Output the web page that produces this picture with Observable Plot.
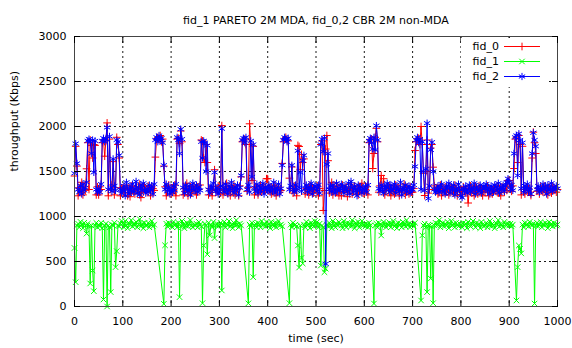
<!DOCTYPE html>
<html><head><meta charset="utf-8">
<script src="https://cdn.jsdelivr.net/npm/d3@7"></script>
<script src="https://cdn.jsdelivr.net/npm/@observablehq/plot@0.6"></script>
<style>
html,body{margin:0;padding:0;background:#fff;}
#chart{width:572px;height:348px;}
</style></head><body><div id="chart"></div>
<script>
const title = "fid_1 PARETO 2M MDA, fid_0,2 CBR 2M non-MDA";
const xLabel = "time (sec)";
const yLabel = "throughput (Kbps)";
const seriesNames = ["fid_0", "fid_1", "fid_2"];
const seriesColors = ["#ff0000", "#00ff00", "#0000ff"];
const seriesSymbols = ["plus", "times", "asterisk"];
const xTicks = [0, 100, 200, 300, 400, 500, 600, 700, 800, 900, 1000];
const yTicks = [0, 500, 1000, 1500, 2000, 2500, 3000];

const time = [
0,2.5,5,7.5,10,12.5,15,17.5,20,22.5,25,27.5,30,32.5,35,37.5,40,42.5,45,47.5,
50,52.5,55,57.5,60,62.5,65,67.5,70,72.5,75,77.5,80,82.5,85,87.5,90,92.5,95,97.5,
100,102.5,105,107.5,110,112.5,115,117.5,120,122.5,125,127.5,130,132.5,135,137.5,140,142.5,145,147.5,
150,152.5,155,157.5,160,162.5,165,167.5,170,172.5,175,177.5,180,182.5,185,187.5,190,192.5,195,197.5,
200,202.5,205,207.5,210,212.5,215,217.5,220,222.5,225,227.5,230,232.5,235,237.5,240,242.5,245,247.5,
250,252.5,255,257.5,260,262.5,265,267.5,270,272.5,275,277.5,280,282.5,285,287.5,290,292.5,295,297.5,
300,302.5,305,307.5,310,312.5,315,317.5,320,322.5,325,327.5,330,332.5,335,337.5,340,342.5,345,347.5,
350,352.5,355,357.5,360,362.5,365,367.5,370,372.5,375,377.5,380,382.5,385,387.5,390,392.5,395,397.5,
400,402.5,405,407.5,410,412.5,415,417.5,420,422.5,425,427.5,430,432.5,435,437.5,440,442.5,445,447.5,
450,452.5,455,457.5,460,462.5,465,467.5,470,472.5,475,477.5,480,482.5,485,487.5,490,492.5,495,497.5,
500,502.5,505,507.5,510,512.5,515,517.5,520,522.5,525,527.5,530,532.5,535,537.5,540,542.5,545,547.5,
550,552.5,555,557.5,560,562.5,565,567.5,570,572.5,575,577.5,580,582.5,585,587.5,590,592.5,595,597.5,
600,602.5,605,607.5,610,612.5,615,617.5,620,622.5,625,627.5,630,632.5,635,637.5,640,642.5,645,647.5,
650,652.5,655,657.5,660,662.5,665,667.5,670,672.5,675,677.5,680,682.5,685,687.5,690,692.5,695,697.5,
700,702.5,705,707.5,710,712.5,715,717.5,720,722.5,725,727.5,730,732.5,735,737.5,740,742.5,745,747.5,
750,752.5,755,757.5,760,762.5,765,767.5,770,772.5,775,777.5,780,782.5,785,787.5,790,792.5,795,797.5,
800,802.5,805,807.5,810,812.5,815,817.5,820,822.5,825,827.5,830,832.5,835,837.5,840,842.5,845,847.5,
850,852.5,855,857.5,860,862.5,865,867.5,870,872.5,875,877.5,880,882.5,885,887.5,890,892.5,895,897.5,
900,902.5,905,907.5,910,912.5,915,917.5,920,922.5,925,927.5,930,932.5,935,937.5,940,942.5,945,947.5,
950,952.5,955,957.5,960,962.5,965,967.5,970,972.5,975,977.5,980,982.5,985,987.5,990,992.5,995,997.5,
1000];

// fid_0 (red, CBR non-MDA)
const fid0 = [
1450,1780,1560,1230,1320,1300,1380,1240,1330,1290,1530,1820,1300,1850,1790,1650,1800,1790,1240,1330,
1240,1330,1300,1820,1850,1670,1840,2040,1230,1860,1300,1350,1610,1240,1320,1880,1800,1650,1230,1310,
1320,1260,1300,1350,1230,1310,1220,1340,1290,1300,1250,1330,1300,1280,1360,1210,1320,1270,1340,1300,
1280,1340,1300,1230,1330,1310,1290,1660,1860,1880,1850,1900,1830,1860,1560,1330,1230,1310,1350,1290,
1250,1320,1290,1350,1230,1860,1870,1810,1950,1830,1240,1310,1280,1370,1230,1300,1330,1260,1290,1340,
1280,1240,1330,1300,1350,1850,1840,1650,1600,1800,1600,1240,1310,1290,1230,1330,1520,1300,1270,1340,
1330,1260,2010,1240,1300,1290,1370,1260,1310,1230,1330,1280,1350,1240,1310,1300,1230,1340,1440,1830,
1850,1860,1800,1280,1320,2030,1800,1400,1780,1240,1330,1300,1240,1290,1350,1270,1300,1330,1290,1420,
1420,1290,1330,1250,1310,1280,1350,1230,1300,1330,1270,1290,1590,1830,1860,1880,1850,1840,1426,1310,
1550,1260,1340,1300,1230,1790,1778,1520,1690,1600,1640,1250,1310,1300,1240,1350,1280,1320,1260,1300,
1290,1340,1230,1310,1800,1840,1067,1289,1750,1900,1620,1260,1310,1380,1240,1330,1300,1270,1340,1230,
1320,1230,1350,1300,1270,1330,1220,1310,1290,1360,1250,1300,1340,1280,1310,1240,1330,1300,1370,1260,
1260,1300,1330,1240,1820,1850,1860,1533,1700,1880,1980,1830,1270,1340,1456,1310,1420,1240,1290,1330,
1290,1340,1230,1310,1280,1250,1350,1300,1330,1230,1310,1270,1300,1360,1240,1320,1290,1250,1330,1270,
1270,1310,1733,1830,1860,1870,1800,2000,1800,1480,1233,1500,1850,1260,1300,1760,1800,1548,1340,1290,
1320,1250,1300,1350,1230,1310,1280,1330,1270,1300,1240,1340,1290,1310,1260,1350,1300,1230,1320,1280,
1300,1240,1330,1290,1260,1310,1150,1300,1340,1260,1310,1230,1330,1290,1250,1340,1280,1310,1230,1300,
1270,1300,1340,1230,1310,1290,1250,1320,1300,1280,1340,1260,1310,1230,1330,1300,1270,1350,1290,1400,
1400,1330,1280,1340,1533,1860,1880,1600,1900,1800,1240,1780,1300,1250,1330,1290,1310,1270,1233,1650,
1937,1820,1700,1280,1310,1250,1330,1300,1270,1340,1290,1310,1240,1330,1300,1260,1340,1290,1310,1270,
1300];

// fid_1 (green, PARETO MDA)
const fid1 = [
650,270,900,920,880,940,910,870,930,900,810,920,890,256,900,400,170,900,930,880,
910,890,930,870,78,900,920,0,900,880,160,910,900,930,437,615,900,890,920,950,
920,880,950,900,870,930,910,960,890,920,900,940,880,910,970,890,920,870,930,900,
900,930,880,910,950,890,910,null,null,null,null,null,null,null,30,680,920,890,930,900,
910,880,940,900,920,880,930,104,890,950,910,870,900,930,890,920,960,900,880,910,
900,920,880,940,910,890,37,678,920,900,580,930,790,910,880,940,760,900,920,890,
910,930,178,900,940,880,920,900,950,890,910,870,930,900,960,910,880,920,900,null,
null,null,null,null,35,910,890,930,326,900,920,880,930,910,880,950,900,920,890,940,
900,920,870,940,910,890,930,880,920,950,900,910,890,null,null,null,null,null,37,910,
880,930,900,910,890,678,433,900,540,478,910,880,940,900,920,870,930,910,890,950,
900,940,880,920,455,900,880,381,420,910,890,930,900,870,950,910,880,920,900,940,
920,900,870,950,910,880,930,900,920,890,960,910,870,930,900,940,880,910,950,900,
910,890,920,880,930,900,null,null,33,900,920,880,930,910,789,900,940,910,880,920,
900,930,880,920,950,890,910,870,930,900,920,880,940,910,890,960,900,920,880,910,
910,890,930,null,null,null,null,67,790,900,920,880,160,910,900,311,890,37,900,930,
900,920,960,880,910,930,890,920,900,940,870,910,950,900,920,880,930,910,890,920,
910,880,930,900,920,870,940,900,890,920,950,910,880,930,900,920,870,940,910,890,
900,930,880,910,950,890,920,900,870,930,910,960,890,920,900,880,940,910,900,920,
900,920,890,910,null,null,67,437,678,640,590,910,880,930,900,920,890,940,910,900,
920,33,900,930,890,910,940,880,920,900,930,910,870,940,900,920,890,930,910,900,
910];

// fid_2 (blue, CBR non-MDA)
const fid2 = [
1480,1810,1590,1300,1270,1340,1250,1360,1290,1320,1380,1840,1860,1830,1700,1850,1490,1840,1300,1270,
1310,1270,1360,1840,1870,1830,1860,1990,1300,1890,1320,1280,1640,1340,1290,1850,1830,1680,1300,1260,
1290,1340,1230,1380,1300,1250,1330,1280,1360,1270,1310,1390,1260,1320,1240,1350,1290,1370,1300,1260,
1310,1270,1350,1290,1330,1250,1360,1850,1880,1830,1900,1850,1870,1820,1570,1300,1360,1280,1330,1250,
1300,1270,1340,1290,1360,1880,1850,1700,1970,1860,1320,1260,1350,1300,1280,1340,1240,1310,1370,1290,
1300,1350,1270,1330,1290,1830,1650,1840,1820,1500,1790,1300,1260,1340,1300,1370,1490,1280,1320,1250,
1280,1340,1975,1320,1270,1360,1300,1250,1340,1290,1380,1310,1260,1330,1290,1350,1240,1320,1456,1850,
1870,1820,1880,1300,1350,1270,1840,1440,1800,1320,1280,1360,1260,1340,1290,1310,1370,1250,1330,1300,
1300,1350,1270,1330,1290,1380,1260,1320,1290,1360,1250,1310,1570,1850,1880,1860,1830,1870,1300,1340,
1570,1300,1270,1350,1290,1730,1320,1490,1280,1620,1680,1310,1350,1270,1330,1290,1370,1250,1310,1340,
1330,1280,1350,1260,1800,1860,1720,1870,474,1580,1700,1300,1340,1270,1350,1300,1260,1370,1290,1320,
1290,1360,1310,1260,1340,1300,1280,1370,1250,1390,1320,1270,1340,1300,1230,1350,1290,1330,1260,1310,
1300,1340,1270,1350,1840,1870,1820,1750,1880,1740,2010,1850,1310,1280,1350,1300,1260,1340,1300,1370,
1320,1270,1350,1290,1310,1360,1260,1330,1300,1280,1380,1240,1320,1290,1350,1270,1310,1340,1260,1300,
1300,1350,1556,1850,1880,1820,1860,1300,1830,1500,1290,1530,2037,1200,1340,1740,1826,1500,1300,1270,
1290,1340,1270,1320,1360,1280,1300,1250,1340,1310,1370,1260,1330,1290,1350,1240,1310,1280,1360,1300,
1230,1210,1310,1280,1340,1260,1300,1350,1270,1320,1290,1370,1250,1330,1300,1280,1350,1260,1310,1340,
1310,1360,1280,1320,1250,1340,1300,1270,1350,1330,1290,1370,1260,1320,1300,1350,1280,1340,1380,1420,
1380,1300,1350,1290,1700,1880,1900,1456,1920,1850,1310,1820,1270,1340,1300,1360,1280,1320,1250,1700,
1930,1850,1780,1300,1340,1270,1320,1290,1360,1300,1330,1250,1350,1290,1310,1370,1280,1330,1300,1340,
1310];

const seriesValues = [fid0, fid1, fid2];
const symbolR = [2.6, 2.6, 3.4];
const font = '"DejaVu Sans", sans-serif';
const fmt = d => `${d}`;

const marks = [
  Plot.gridX({ticks: xTicks, stroke: "#000", strokeOpacity: 0.9, strokeDasharray: "2,3"}),
  Plot.gridY({ticks: yTicks, stroke: "#000", strokeOpacity: 0.9, strokeDasharray: "2,3"})
];
seriesValues.forEach((arr, k) => {
  const rows = time.map((t, i) => ({t, v: arr[i]})).filter(d => d.v != null);
  marks.push(Plot.line(rows, {x: "t", y: "v", stroke: seriesColors[k], strokeWidth: 1}));
  marks.push(Plot.dot(rows, {x: "t", y: "v", symbol: seriesSymbols[k], stroke: seriesColors[k], r: symbolR[k], strokeWidth: 1}));
});
marks.push(
  Plot.frame({stroke: "#444", strokeWidth: 1}),
  Plot.axisX({anchor: "bottom", ticks: xTicks, tickSize: 0, tickPadding: 11, tickFormat: fmt, label: null}),
  Plot.axisY({anchor: "left", ticks: yTicks, tickSize: 0, tickPadding: 8, tickFormat: fmt, label: null}),
  Plot.axisX({anchor: "bottom", ticks: xTicks, tickSize: -6, tickFormat: () => "", label: null}),
  Plot.axisX({anchor: "top", ticks: xTicks, tickSize: -6, tickFormat: () => "", label: null}),
  Plot.axisY({anchor: "left", ticks: yTicks, tickSize: -6, tickFormat: () => "", label: null}),
  Plot.axisY({anchor: "right", ticks: yTicks, tickSize: -6, tickFormat: () => "", label: null}),
  Plot.text([title], {frameAnchor: "top", dy: -20, text: d => d, fontSize: 11}),
  Plot.text([xLabel], {frameAnchor: "bottom", dy: 35, text: d => d, fontSize: 11}),
  Plot.text([yLabel], {frameAnchor: "left", dx: -60, rotate: -90, text: d => d, fontSize: 11})
);

const chart = Plot.plot({
  width: 572, height: 348,
  marginLeft: 74, marginRight: 15, marginTop: 36, marginBottom: 42,
  style: {fontFamily: font, fontSize: "11px", color: "#000", background: "#fff"},
  x: {domain: [0, 1000]},
  y: {domain: [0, 3000]},
  marks
});
document.getElementById("chart").appendChild(chart);

// Legend (top-right, on a white box like gnuplot's key)
const svg = d3.select(chart);
const lg = svg.append("g").attr("font-family", font).attr("font-size", 11);
lg.append("rect").attr("x", 461).attr("y", 38).attr("width", 88).attr("height", 49).attr("fill", "#fff");
const legendY = [46, 61, 76];
seriesNames.forEach((name, k) => {
  const y = legendY[k];
  lg.append("text").attr("x", 499).attr("y", y).attr("dy", "0.35em").attr("text-anchor", "end").attr("fill", "#000").text(name);
  lg.append("line").attr("x1", 504).attr("x2", 540).attr("y1", y + 0.5).attr("y2", y + 0.5).attr("stroke", seriesColors[k]).attr("stroke-width", 1);
  const sym = {plus: d3.symbolPlus, times: d3.symbolTimes, asterisk: d3.symbolAsterisk}[seriesSymbols[k]];
  lg.append("path").attr("transform", `translate(522,${y + 0.5})`)
    .attr("d", d3.symbol(sym, Math.PI * symbolR[k] * symbolR[k])())
    .attr("fill", "none").attr("stroke", seriesColors[k]).attr("stroke-width", 1);
});
</script>
</body></html>
